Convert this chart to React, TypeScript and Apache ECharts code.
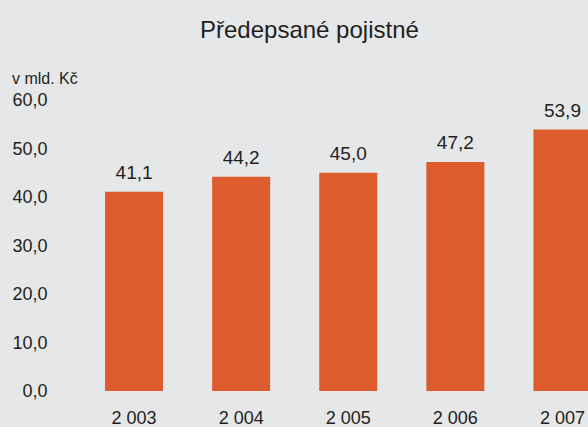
import React, { useEffect, useRef } from "react";
import * as echarts from "echarts";

const categories = ["2 003", "2 004", "2 005", "2 006", "2 007"];
const values = [41.1, 44.2, 45.0, 47.2, 53.9];
const titleText = "Předepsané pojistné";
const unitText = "v mld. Kč";

const fmt = (v: number) => v.toFixed(1).replace(".", ",");

export default function App() {
  const ref = useRef<HTMLDivElement>(null);
  useEffect(() => {
    if (!ref.current) return;
    const chart = echarts.init(ref.current, null, { renderer: "svg" });
    const font = "'Liberation Sans', Arial, Helvetica, sans-serif";
    chart.setOption({
      animation: false,
      backgroundColor: "#e6e7e9",
      textStyle: { fontFamily: font },
      title: {
        text: titleText,
        left: 195,
        top: 12,
        textStyle: { fontSize: 24, fontWeight: "normal", color: "#231f20", fontFamily: font },
      },
      graphic: [
        {
          type: "text",
          left: 12,
          top: 70,
          style: { text: unitText, fontSize: 16, fill: "#231f20", fontFamily: font },
        },
      ],
      grid: { left: 80.5, right: 0, top: 100, bottom: 36, containLabel: false },
      xAxis: {
        type: "category",
        data: categories,
        axisLine: { show: false },
        axisTick: { show: false },
        axisLabel: { margin: 18, fontSize: 18, color: "#231f20", fontFamily: font },
      },
      yAxis: {
        type: "value",
        min: 0,
        max: 60,
        interval: 10,
        splitLine: { show: false },
        axisLine: { show: false },
        axisTick: { show: false },
        axisLabel: {
          margin: 33,
          fontSize: 18,
          color: "#231f20",
          fontFamily: font,
          formatter: (v: number) => fmt(v),
        },
      },
      series: [
        {
          type: "bar",
          data: values,
          barWidth: 58,
          itemStyle: { color: "#dd5b2c" },
          label: {
            show: true,
            position: "top",
            distance: 10,
            fontSize: 19,
            color: "#231f20",
            fontFamily: font,
            formatter: (p: any) => fmt(p.value),
          },
        },
      ],
    });
    return () => chart.dispose();
  }, []);
  return (
    <div style={{ width: 588, height: 427, position: "absolute", left: 0, top: 0, overflow: "hidden", background: "#e6e7e9" }}>
      <div ref={ref} style={{ width: 616, height: 427 }} />
    </div>
  );
}
